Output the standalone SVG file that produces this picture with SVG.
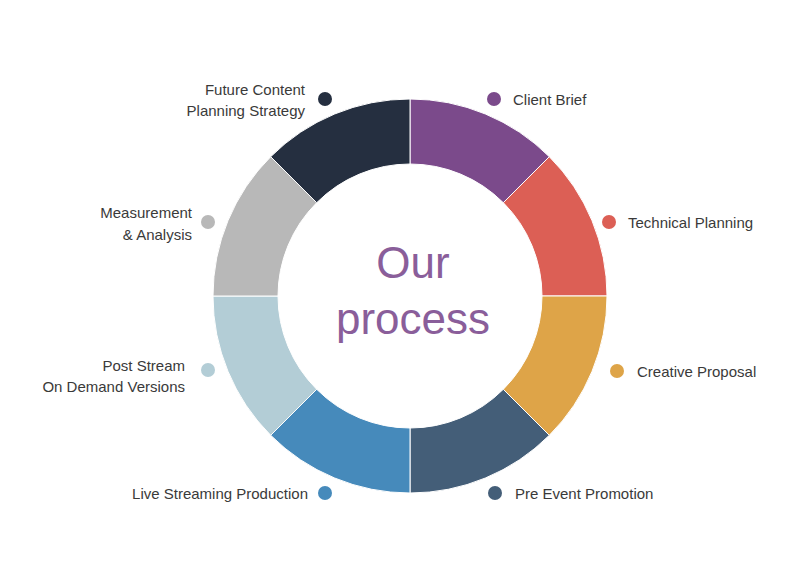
<svg xmlns="http://www.w3.org/2000/svg" width="800" height="578" viewBox="0 0 800 578">
<style>
.seg{stroke:#fff;stroke-width:1}
.lbl{font-family:"Liberation Sans",Arial,sans-serif;font-size:15px;fill:#3a3a3a}
.end{text-anchor:end}
.title{font-family:"Liberation Sans",Arial,sans-serif;font-size:44px;fill:#8a5e9a;text-anchor:middle}
</style>
<rect width="800" height="578" fill="#fff"/>
<g id="segments">
<path id="s1" class="seg" fill="#7b4a8b" d="M410,99 A197,197 0 0 1 549.3,156.7 L503.3,202.7 A132,132 0 0 0 410,164 Z"/>
<path id="s2" class="seg" fill="#dc5f55" d="M549.3,156.7 A197,197 0 0 1 607,296 L542,296 A132,132 0 0 0 503.3,202.7 Z"/>
<path id="s3" class="seg" fill="#dea448" d="M607,296 A197,197 0 0 1 549.3,435.3 L503.3,389.3 A132,132 0 0 0 542,296 Z"/>
<path id="s4" class="seg" fill="#445e78" d="M549.3,435.3 A197,197 0 0 1 410,493 L410,428 A132,132 0 0 0 503.3,389.3 Z"/>
<path id="s5" class="seg" fill="#468abb" d="M410,493 A197,197 0 0 1 270.7,435.3 L316.7,389.3 A132,132 0 0 0 410,428 Z"/>
<path id="s6" class="seg" fill="#b3cdd6" d="M270.7,435.3 A197,197 0 0 1 213,296 L278,296 A132,132 0 0 0 316.7,389.3 Z"/>
<path id="s7" class="seg" fill="#b8b8b8" d="M213,296 A197,197 0 0 1 270.7,156.7 L316.7,202.7 A132,132 0 0 0 278,296 Z"/>
<path id="s8" class="seg" fill="#252f40" d="M270.7,156.7 A197,197 0 0 1 410,99 L410,164 A132,132 0 0 0 316.7,202.7 Z"/>
</g>
<g id="title"><text class="title" x="413" y="278">Our</text><text class="title" x="413" y="334">process</text></g>
<g id="n1"><circle cx="494" cy="99" r="7" fill="#7b4a8b"/><text class="lbl" x="513" y="105">Client Brief</text></g>
<g id="n2"><circle cx="609" cy="222" r="7" fill="#dc5f55"/><text class="lbl" x="628" y="228">Technical Planning</text></g>
<g id="n3"><circle cx="617" cy="371" r="7" fill="#dea448"/><text class="lbl" x="637" y="377">Creative Proposal</text></g>
<g id="n4"><circle cx="495" cy="493" r="7" fill="#445e78"/><text class="lbl" x="515" y="499">Pre Event Promotion</text></g>
<g id="n5"><circle cx="325" cy="493" r="7" fill="#468abb"/><text class="lbl end" x="308" y="499">Live Streaming Production</text></g>
<g id="n6"><circle cx="208" cy="370" r="7" fill="#b3cdd6"/><text class="lbl end" x="185" y="371">Post  Stream</text><text class="lbl end" x="185" y="392">On Demand Versions</text></g>
<g id="n7"><circle cx="208" cy="222" r="7" fill="#b8b8b8"/><text class="lbl end" x="192" y="218">Measurement</text><text class="lbl end" x="192" y="240">&amp; Analysis</text></g>
<g id="n8"><circle cx="325" cy="99" r="7" fill="#252f40"/><text class="lbl end" x="305" y="95">Future Content</text><text class="lbl end" x="305" y="116">Planning Strategy</text></g>
</svg>
